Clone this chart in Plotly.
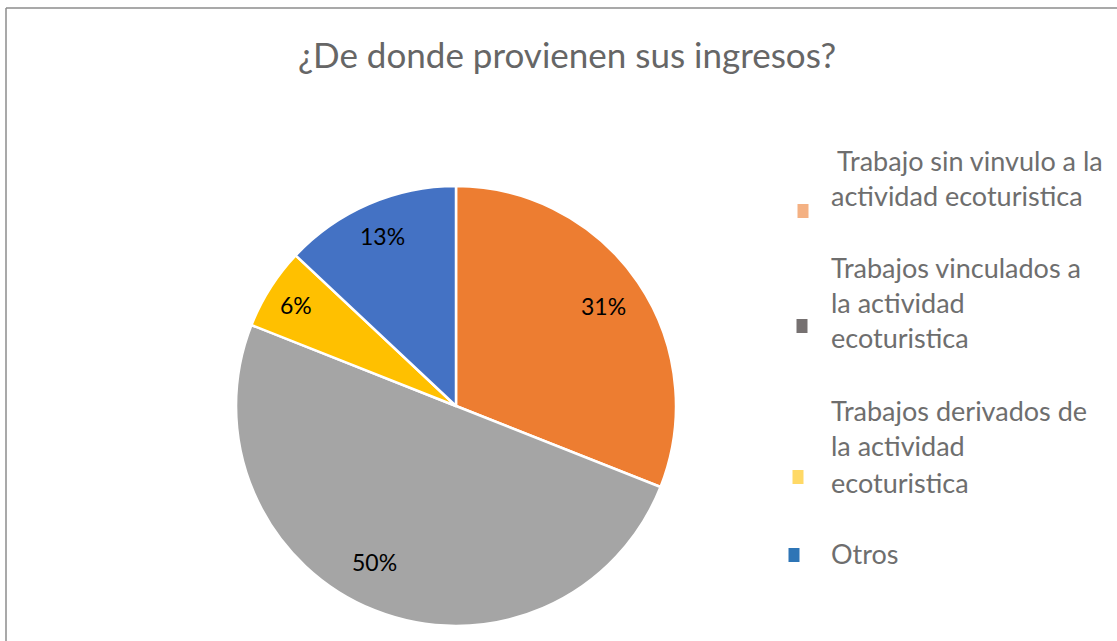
import plotly.graph_objects as go
import numpy as np

W, H = 1117, 641

categories = [" Trabajo sin vinvulo a la actividad ecoturistica",
              "Trabajos vinculados a la actividad ecoturistica",
              "Trabajos derivados de la actividad ecoturistica",
              "Otros"]
values = [31, 50, 6, 13]
slice_colors = ["#ED7D31", "#A5A5A5", "#FFC000", "#4472C4"]
legend_colors = ["#F4B183", "#767171", "#FFD966", "#2E75B6"]
legend_lines = [[" Trabajo sin vinvulo a la", "actividad ecoturistica"],
                ["Trabajos vinculados a", "la actividad", "ecoturistica"],
                ["Trabajos derivados de", "la actividad", "ecoturistica"],
                ["Otros"]]
title = "¿De donde provienen sus ingresos?"

FONT = "Lato"

# pie geometry (pixels)
cx, cy, R = 456, 406, 220
dom_x = [(cx - R) / W, (cx + R) / W]
dom_y = [1 - (cy + R) / H, 1 - (cy - R) / H]

fig = go.Figure()
fig.add_trace(go.Pie(
    labels=categories, values=values, sort=False, direction="clockwise",
    rotation=0, marker=dict(colors=slice_colors, line=dict(color="white", width=2.5)),
    textinfo="none", hoverinfo="label+percent", showlegend=False,
    domain=dict(x=dom_x, y=dom_y)))

fig.update_layout(
    width=W, height=H,
    margin=dict(l=0, r=0, t=0, b=0),
    paper_bgcolor="white", plot_bgcolor="white",
    showlegend=False,
)

annotations = [dict(text=title, x=567 / W, y=1 - 54 / H, xref="paper", yref="paper",
                    xanchor="center", yanchor="middle", showarrow=False,
                    font=dict(family=FONT, size=35, color="#666666"))]

# data labels at slice mid-angles (derived from the values)
vals = np.array(values, dtype=float)
cum = np.cumsum(vals)
mid = np.radians((cum - vals / 2) / vals.sum() * 360)
label_r = [0.81, 0.80, 0.86, 0.84]
label_da = [0, 6, 0, 0]  # small angular nudge (degrees) for label placement
for v, a, rf, da in zip(vals, mid, label_r, label_da):
    a = a + np.radians(da)
    px = cx + rf * R * np.sin(a)
    py = cy - rf * R * np.cos(a)
    annotations.append(dict(text=f"{round(v / vals.sum() * 100)}%", x=px / W, y=1 - py / H,
                            xref="paper", yref="paper", xanchor="center", yanchor="middle",
                            showarrow=False,
                            font=dict(family=FONT, size=23, color="#000000")))

shapes = []
item_y = [[160, 195], [267, 303, 338], [410, 445, 482], [553]]
marker_c = [(803, 211), (802, 326), (798, 477), (794, 555)]
for i, lines in enumerate(legend_lines):
    for j, line in enumerate(lines):
        annotations.append(dict(text=line, x=829 / W, y=1 - item_y[i][j] / H,
                                xref="paper", yref="paper", xanchor="left", yanchor="middle",
                                showarrow=False,
                                font=dict(family=FONT, size=27, color="#6E6E6E")))
    mx, my = marker_c[i]
    shapes.append(dict(type="rect", xref="paper", yref="paper",
                       x0=(mx - 5.5) / W, x1=(mx + 5.5) / W,
                       y0=1 - (my + 7) / H, y1=1 - (my - 7) / H,
                       fillcolor=legend_colors[i], line=dict(width=0)))

# chart frame (left and top edges visible)
shapes.append(dict(type="line", xref="paper", yref="paper", x0=6 / W, x1=6 / W,
                   y0=0, y1=1 - 8 / H, line=dict(color="#8C8C8C", width=1.5)))
shapes.append(dict(type="line", xref="paper", yref="paper", x0=6 / W, x1=1,
                   y0=1 - 8 / H, y1=1 - 8 / H, line=dict(color="#8C8C8C", width=1.5)))

fig.update_layout(annotations=annotations, shapes=shapes)
fig.write_html("out.html", config={"displayModeBar": False},
               post_script="document.body.style.margin='0';document.body.style.overflow='hidden';")
